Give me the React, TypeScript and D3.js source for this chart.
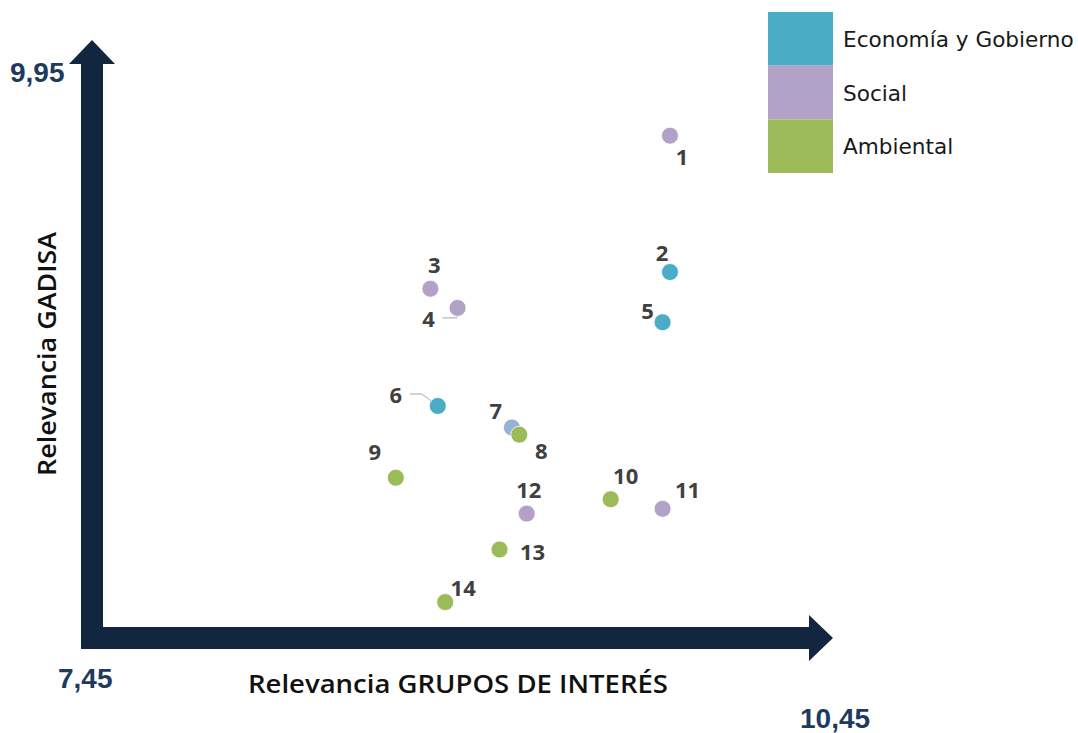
import * as d3 from "d3";

const ids = [1, 2, 3, 4, 5, 6, 7, 8, 9, 10, 11, 12, 13, 14];
const gruposValues = [9.79, 9.79, 8.82, 8.93, 9.76, 8.85, 9.15, 9.18, 8.68, 9.55, 9.76, 9.21, 9.10, 8.88];
const gadisaValues = [9.55, 8.98, 8.91, 8.83, 8.77, 8.42, 8.33, 8.30, 8.12, 8.03, 7.99, 7.97, 7.82, 7.60];
const pointCategory = [
  "Social", "Economía y Gobierno", "Social", "Social", "Economía y Gobierno",
  "Economía y Gobierno", "Mixto", "Ambiental", "Ambiental", "Ambiental",
  "Social", "Social", "Ambiental", "Ambiental"
];
const legendCategories = ["Economía y Gobierno", "Social", "Ambiental"];
const xDomain = [7.45, 10.45];
const yDomain = [7.45, 9.95];
const xDomainLabels = ["7,45", "10,45"];
const yTopLabel = "9,95";

const W = 1078;
const H = 733;
const navy = "#13263f";
const numColor = "#1f3a60";

// label placement relative to the point (layout only)
const labelOffset: [number, number][] = [
  [12, 21], [-8, -19], [4, -24], [-29, 11], [-15, -11], [-42, -11], [-16, -16],
  [22, 16], [-21, -26], [15, -23], [25, -19], [2, -24], [33, 3], [18, -14]
];

export default function App() {
  const x = d3.scaleLinear().domain(xDomain).range([92, 833]);
  const y = d3.scaleLinear().domain(yDomain).range([638, 40]);
  const color = d3
    .scaleOrdinal<string, string>()
    .domain([...legendCategories, "Mixto"])
    .range(["#4bacc6", "#b2a2c7", "#9bbb59", "#95b3d7"]);

  const x0 = x(xDomain[0]);
  const y0 = y(yDomain[0]);
  const half = 11;
  const headLen = 24;
  const headHalf = 23;
  const xEnd = x(xDomain[1]);
  const yEnd = y(yDomain[1]);

  const yArrow = `M${x0 - half},${y0 + half} L${x0 - half},${yEnd + headLen} L${x0 - headHalf},${yEnd + headLen} L${x0},${yEnd} L${x0 + headHalf},${yEnd + headLen} L${x0 + half},${yEnd + headLen} L${x0 + half},${y0 - half} Z`;
  const xArrow = `M${x0 - half},${y0 - half} L${xEnd - headLen},${y0 - half} L${xEnd - headLen},${y0 - headHalf} L${xEnd},${y0} L${xEnd - headLen},${y0 + headHalf} L${xEnd - headLen},${y0 + half} L${x0 - half},${y0 + half} Z`;

  const legendY = d3.scaleBand().domain(legendCategories).range([12, 173]);

  return (
    <div style={{ position: "absolute", left: 0, top: 0 }}>
      <svg width={W} height={H} style={{ display: "block" }}>
        <rect width={W} height={H} fill="#fff" />
        <path d={yArrow} fill={navy} />
        <path d={xArrow} fill={navy} />

        <g fontFamily="'Liberation Sans', Arial, sans-serif" fontWeight="bold" fontSize={28} fill={numColor}>
          <text x={10} y={82}>{yTopLabel}</text>
          <text x={58} y={688}>{xDomainLabels[0]}</text>
          <text x={800} y={728}>{xDomainLabels[1]}</text>
        </g>

        <text
          x={458}
          y={693}
          textAnchor="middle"
          fontFamily="'Open Sans', sans-serif"
          fontWeight={600}
          fontSize={25}
          textLength={420}
          lengthAdjust="spacingAndGlyphs"
          fill="#111"
        >
          Relevancia GRUPOS DE INTERÉS
        </text>
        <text
          transform="translate(56,354) rotate(-90)"
          textAnchor="middle"
          fontFamily="'Open Sans', sans-serif"
          fontWeight={600}
          fontSize={26}
          textLength={244}
          lengthAdjust="spacingAndGlyphs"
          fill="#111"
        >
          Relevancia GADISA
        </text>

        <g>
          {legendCategories.map(c => (
            <g key={c}>
              <rect x={768} y={legendY(c)} width={65} height={legendY.bandwidth()} fill={color(c)} />
              <text
                x={843}
                y={(legendY(c) ?? 0) + legendY.bandwidth() / 2 + 8}
                fontFamily="'DejaVu Sans', sans-serif"
                fontSize={21.6}
                fill="#1a1a1a"
              >
                {c}
              </text>
            </g>
          ))}
        </g>

        {/* leader lines for 4 and 6 */}
        {[3, 5].map(i => {
          const px = x(gruposValues[i]);
          const py = y(gadisaValues[i]);
          const lx = px + labelOffset[i][0] + 14;
          const ly = py + labelOffset[i][1] - 1;
          const mid = i === 3 ? `L${px - 1},${ly}` : `L${lx + 12},${ly}`;
          return (
            <path
              key={`lead-${i}`}
              d={`M${lx},${ly} ${mid} L${px},${py}`}
              fill="none"
              stroke="#a6a6a6"
              strokeWidth={1}
            />
          );
        })}

        {ids.map((id, i) => (
          <circle
            key={id}
            cx={x(gruposValues[i])}
            cy={y(gadisaValues[i])}
            r={8.5}
            fill={color(pointCategory[i])}
            stroke="#fff"
            strokeWidth={0.8}
          />
        ))}

        <g fontFamily="'Open Sans', sans-serif" fontWeight="bold" fontSize={22} fill="#404040" textAnchor="middle">
          {ids.map((id, i) => (
            <text
              key={`l-${id}`}
              x={x(gruposValues[i]) + labelOffset[i][0]}
              y={y(gadisaValues[i]) + labelOffset[i][1]}
              dy="0.36em"
            >
              {id}
            </text>
          ))}
        </g>
      </svg>
    </div>
  );
}
